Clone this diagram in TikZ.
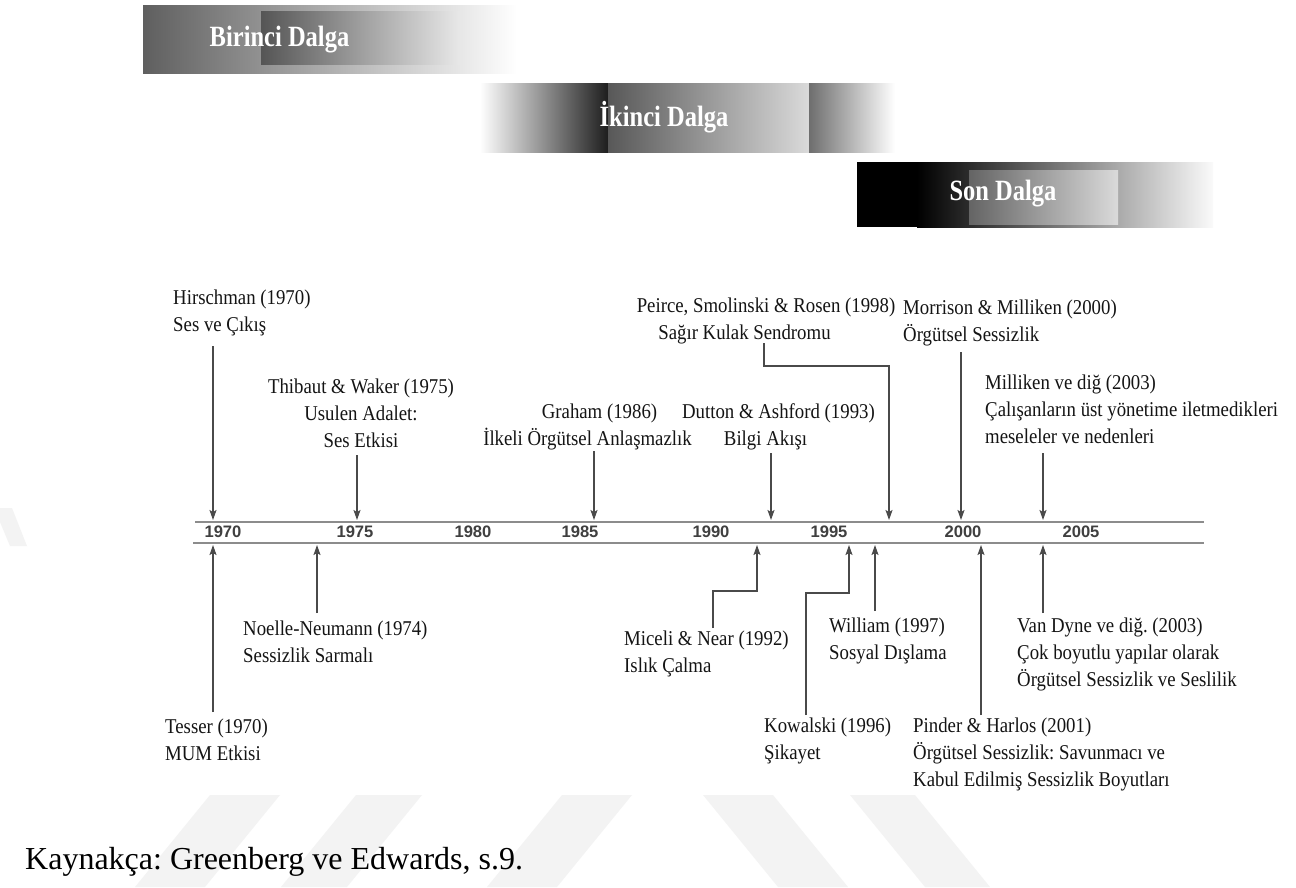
\documentclass[tikz,border=0pt]{standalone}
\usepackage{fontspec}
\setmainfont{Liberation Serif}
\newfontfamily\axisfont{Liberation Sans}
\usetikzlibrary{arrows.meta}
\frenchspacing

\definecolor{axisgray}{HTML}{8C8C8C}
\definecolor{yeargray}{HTML}{404040}
\definecolor{linkgray}{HTML}{4A4A4A}
\definecolor{inkdark}{HTML}{141414}
\definecolor{markgray}{HTML}{F3F3F3}
\definecolor{waveA}{HTML}{5F5F5F}
\definecolor{waveB}{HTML}{555555}
\definecolor{waveC}{HTML}{E8E8E8}
\definecolor{waveD}{HTML}{1E1E1E}
\definecolor{waveE}{HTML}{585858}
\definecolor{waveF}{HTML}{DADADA}
\definecolor{waveG}{HTML}{6E6E6E}
\definecolor{waveH}{HTML}{646464}
\definecolor{waveI}{HTML}{FAFAFA}

\begin{document}
\begin{tikzpicture}[x=1pt,y=-1pt,
  lbl/.style={inner sep=0pt, yscale=1.12, font=\fontsize{18.8}{24.1}\selectfont, text=inkdark},
  lblL/.style={lbl, align=left, anchor=base west},
  lblC/.style={lbl, align=center, anchor=base},
  year/.style={inner sep=0pt, font=\axisfont\bfseries\fontsize{16.6}{18}\selectfont, text=yeargray},
  wave/.style={inner sep=0pt, anchor=base, yscale=1.2, font=\bfseries\fontsize{24.5}{26}\selectfont, text=white},
  link/.style={draw=linkgray, line width=1.4pt},
  arr/.style={link, -{Stealth[length=10pt,width=7pt,inset=2pt]}},
  axisline/.style={draw=axisgray, line width=2.4pt},
  stripe/.style={fill=markgray, draw=none},
]
\fill[white] (0,0) rectangle (1296,887);
\useasboundingbox (0,0) rectangle (1296,887);

% faint diagonal stripes in the background
\fill[stripe] (0,508) -- (12,508) -- (27,546) -- (10,546) -- (0,522) -- cycle;
\fill[stripe] (210,795) -- (280,795) -- (205,887) -- (135,887) -- cycle;
\fill[stripe] (356,795) -- (422,795) -- (347,887) -- (281,887) -- cycle;
\fill[stripe] (562,795) -- (632,795) -- (557,887) -- (487,887) -- cycle;
\fill[stripe] (703,795) -- (773,795) -- (848,887) -- (778,887) -- cycle;
\fill[stripe] (850,795) -- (915,795) -- (990,887) -- (925,887) -- cycle;

% wave banners
\shade[left color=waveA, right color=white] (143,5) rectangle (517,73);
\shade[left color=waveB, right color=waveC] (261,11) rectangle (460,64);
\node[wave] (w1) at (279.5,46) {Birinci Dalga};

\shade[left color=white, right color=waveD] (480,83) rectangle (608,152);
\shade[left color=waveE, right color=waveF] (608,83) rectangle (809,152);
\shade[left color=waveG, right color=white] (809,83) rectangle (895,152);
\node[wave] (w2) at (664,126) {İkinci Dalga};

\fill[black] (857,162) rectangle (917,227);
\shade[left color=black, right color=waveI] (917,162) rectangle (1213,227);
\shade[left color=waveH, right color=waveF] (969,170) rectangle (1118,224);
\node[wave] (w3) at (1003,200) {Son Dalga};

% time axis
\draw[axisline] (195,522) -- (1204,522);
\draw[axisline] (193,543) -- (1204,543);
\foreach \yr/\px in {1970/223,1975/355,1980/473,1985/580,1990/711,1995/829,2000/963,2005/1081}
  \node[year] (y\yr) at (\px,532) {\yr};

% studies above the axis (node base = baseline of the last line)
\node[lblL] (hir) at (173,331) {Hirschman (1970)\\Ses ve Çıkış};
\node[lblC] (thi) at (361,447) {Thibaut \& Waker (1975)\\Usulen Adalet:\\Ses Etkisi};
\node[lblC] (gra) at (587.5,445) {\hspace*{24pt}Graham (1986)\\İlkeli Örgütsel Anlaşmazlık};
\node[lblC] (dut) at (778.5,445) {Dutton \& Ashford (1993)\\Bilgi Akışı\hspace*{26pt}};
\node[lblC] (pei) at (766,339) {Peirce, Smolinski \& Rosen (1998)\\Sağır Kulak Sendromu\hspace*{43pt}};
\node[lblL] (mor) at (903,341) {Morrison \& Milliken (2000)\\Örgütsel Sessizlik};
\node[lblL] (mil) at (985,443) {Milliken ve diğ (2003)\\Çalışanların üst yönetime iletmedikleri\\meseleler ve nedenleri};

% studies below the axis
\node[lblL] (noe) at (243,662) {Noelle-Neumann (1974)\\Sessizlik Sarmalı};
\node[lblL] (tes) at (165,760) {Tesser (1970)\\MUM Etkisi};
\node[lblL] (mic) at (624,672) {Miceli \& Near (1992)\\Islık Çalma};
\node[lblL] (wil) at (829,659) {William (1997)\\Sosyal Dışlama};
\node[lblL] (kow) at (764,759) {Kowalski (1996)\\Şikayet};
\node[lblL] (pin) at (913,786) {Pinder \& Harlos (2001)\\Örgütsel Sessizlik: Savunmacı ve\\Kabul Edilmiş Sessizlik Boyutları};
\node[lblL] (van) at (1017,686) {Van Dyne ve diğ. (2003)\\Çok boyutlu yapılar olarak\\Örgütsel Sessizlik ve Seslilik};

% connector end points
\coordinate (hirS) at (213,346);  \coordinate (hirA) at (213,520);
\coordinate (thiS) at (357,455);  \coordinate (thiA) at (357,520);
\coordinate (graS) at (594,451);  \coordinate (graA) at (594,520);
\coordinate (dutS) at (771,453);  \coordinate (dutA) at (771,520);
\coordinate (peiS) at (764,343);  \coordinate (peiB) at (764,366);
\coordinate (peiC) at (889,366);  \coordinate (peiA) at (889,520);
\coordinate (morS) at (961,352);  \coordinate (morA) at (961,520);
\coordinate (milS) at (1043,453); \coordinate (milA) at (1043,520);

\coordinate (tesS) at (213,712);  \coordinate (tesA) at (213,545);
\coordinate (noeS) at (317,613);  \coordinate (noeA) at (317,545);
\coordinate (micS) at (713,628);  \coordinate (micB) at (713,591);
\coordinate (micC) at (757,591);  \coordinate (micA) at (757,545);
\coordinate (kowS) at (806,715);  \coordinate (kowB) at (806,593);
\coordinate (kowC) at (849,593);  \coordinate (kowA) at (849,545);
\coordinate (wilS) at (875,611);  \coordinate (wilA) at (875,545);
\coordinate (pinS) at (981,715);  \coordinate (pinA) at (981,545);
\coordinate (vanS) at (1043,613); \coordinate (vanA) at (1043,545);

% arrows onto the axis
\draw[arr] (hirS) -- (hirA);
\draw[arr] (thiS) -- (thiA);
\draw[arr] (graS) -- (graA);
\draw[arr] (dutS) -- (dutA);
\draw[arr] (peiS) -- (peiB) -- (peiC) -- (peiA);
\draw[arr] (morS) -- (morA);
\draw[arr] (milS) -- (milA);

\draw[arr] (tesS) -- (tesA);
\draw[arr] (noeS) -- (noeA);
\draw[arr] (micS) -- (micB) -- (micC) -- (micA);
\draw[arr] (kowS) -- (kowB) -- (kowC) -- (kowA);
\draw[arr] (wilS) -- (wilA);
\draw[arr] (pinS) -- (pinA);
\draw[arr] (vanS) -- (vanA);

% source line
\node[inner sep=0pt, anchor=base west, font=\fontsize{32}{36}\selectfont, text=black] (src) at (25,869) {Kaynakça: Greenberg ve Edwards, s.9.};
\end{tikzpicture}
\end{document}
